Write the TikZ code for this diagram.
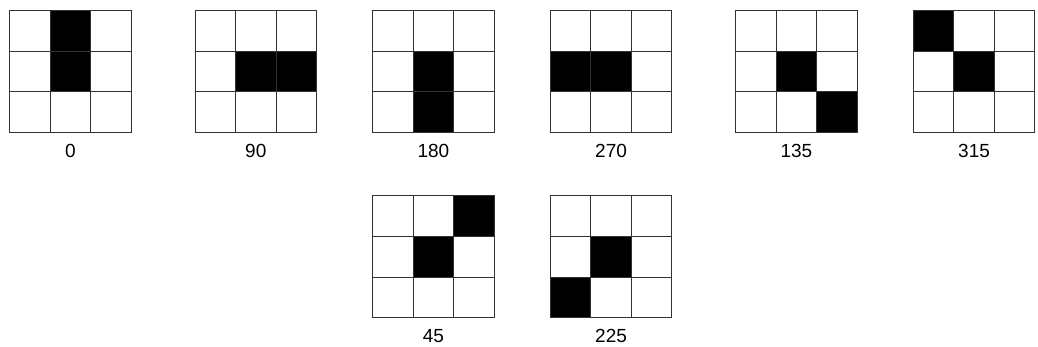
\documentclass[tikz,border=0pt]{standalone}
\usepackage{fontspec}
\setmainfont{Liberation Sans}
\newcommand\pgrid[5]{% name, x, y, filled list, label
  \begin{scope}[shift={(#2,#3)}]
    \foreach \c/\r in {#4} {\fill[cellfill] (\c*40.5,\r*40.5) rectangle ++(40.5,40.5);}
    \foreach \i in {0,1,2,3} {
      \draw[gridline] (\i*40.5,0) -- (\i*40.5,121.5);
      \draw[gridline] (0,\i*40.5) -- (121.5,\i*40.5);
    }
    \node[lbl] (#1) at (60.75,140) {#5};
  \end{scope}}
\begin{document}
\begin{tikzpicture}[x=1pt,y=-1pt,
  gridline/.style={draw=black!80,line width=1pt,line cap=rect},
  cellfill/.style={fill=black},
  lbl/.style={font=\fontsize{19}{22}\selectfont,inner sep=0pt}]
\useasboundingbox (0,0) rectangle (1038,347);
\pgrid{a}{9.7}{11}{1/0,1/1}{0}
\pgrid{b}{195}{11}{1/1,2/1}{90}
\pgrid{c}{372.7}{11}{1/1,1/2}{180}
\pgrid{d}{550.3}{11}{0/1,1/1}{270}
\pgrid{e}{735.7}{11}{1/1,2/2}{135}
\pgrid{f}{913.3}{11}{0/0,1/1}{315}
\pgrid{g}{372.7}{196}{2/0,1/1}{45}
\pgrid{h}{550.3}{196}{1/1,0/2}{225}
\end{tikzpicture}
\end{document}
